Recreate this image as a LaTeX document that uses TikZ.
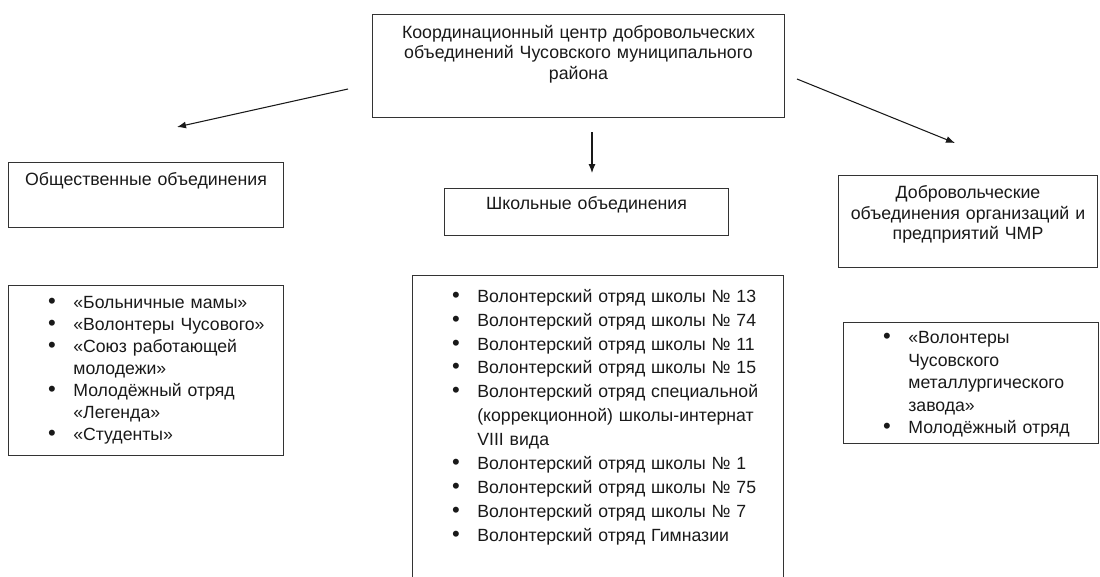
\documentclass[tikz,border=0pt]{standalone}
\usepackage{fontspec}
\setmainfont{Liberation Sans}
\usetikzlibrary{arrows.meta}

% bulleted list for the boxes
\newenvironment{dotlist}{%
  \begin{list}{\scalebox{1.25}{\textbullet}}{%
    \setlength\leftmargin{37pt}\setlength\labelsep{10pt}%
    \setlength\labelwidth{20pt}\setlength\itemsep{0pt}%
    \setlength\parsep{0pt}\setlength\topsep{0pt}%
    \setlength\partopsep{0pt}}}{\end{list}}

\begin{document}
\begin{tikzpicture}
    [x=0.02cm,y=-0.02cm,
     box/.style={draw=black!80,line width=0.6pt,anchor=north west,inner sep=0pt},
     caption/.style={anchor=north,inner sep=0pt,align=center,text=black!90,
                     font=\fontsize{10.1}{11.8}\selectfont},
     items/.style={anchor=north west,inner sep=0pt,text=black!90},
     arrow/.style={draw=black!90,line width=0.6pt,-{Latex[length=1.8mm,width=1.4mm]}}]
    \clip (0,0) rectangle (1100,576);

    % boxes
    \node[box,minimum width=8.24cm,minimum height=2.06cm] (hub)    at (372,14)  {};
    \node[box,minimum width=5.5cm, minimum height=1.3cm]  (pub)    at (8,162)   {};
    \node[box,minimum width=5.68cm,minimum height=0.94cm] (school) at (444,188) {};
    \node[box,minimum width=5.18cm,minimum height=1.84cm] (firms)  at (838,175) {};
    \node[box,minimum width=5.5cm, minimum height=3.4cm]  (publist)    at (8,285)   {};
    \node[box,minimum width=7.42cm,minimum height=6.5cm]  (schoollist) at (412,275) {};
    \node[box,minimum width=5.1cm, minimum height=2.42cm] (firmlist)   at (843,322) {};

    % captions
    \node[caption,text width=7.8cm] (hubtxt) at ([yshift=-0.21cm]hub.north)
      {Координационный центр добровольческих\\объединений Чусовского муниципального\\района};
    \node[caption,text width=5.4cm] (pubtxt) at ([yshift=-0.2cm]pub.north)
      {Общественные объединения};
    \node[caption,text width=5.6cm] (schooltxt) at ([yshift=-0.16cm]school.north)
      {Школьные объединения};
    \node[caption,text width=5.1cm] (firmstxt) at ([yshift=-0.2cm]firms.north)
      {Добровольческие\\объединения организаций и\\предприятий ЧМР};

    % lists
    \node[items,text width=5.5cm,font=\fontsize{10.05}{12.5}\selectfont] (pubitems)
      at ([yshift=-0.02cm]publist.north west) {%
      \begin{dotlist}
        \item «Больничные мамы»
        \item «Волонтеры Чусового»
        \item «Союз работающей\\молодежи»
        \item Молодёжный отряд\\«Легенда»
        \item «Студенты»
      \end{dotlist}};
    \node[items,text width=7.42cm,font=\fontsize{10.05}{13.6}\selectfont] (schoolitems)
      at ([yshift=-0.06cm]schoollist.north west) {%
      \begin{dotlist}
        \item Волонтерский отряд школы № 13
        \item Волонтерский отряд школы № 74
        \item Волонтерский отряд школы № 11
        \item Волонтерский отряд школы № 15
        \item Волонтерский отряд специальной\\(коррекционной) школы-интернат\\VIII вида
        \item Волонтерский отряд школы № 1
        \item Волонтерский отряд школы № 75
        \item Волонтерский отряд школы № 7
        \item Волонтерский отряд Гимназии
      \end{dotlist}};
    \node[items,text width=5.1cm,font=\fontsize{10.05}{12.8}\selectfont] (firmitems)
      at ([yshift=0.02cm]firmlist.north west) {%
      \begin{dotlist}
        \item «Волонтеры\\Чусовского\\металлургического\\завода»
        \item Молодёжный отряд
      \end{dotlist}};

    % arrows
    \coordinate (hubL)  at (348,89);
    \coordinate (pubA)  at (177,127);
    \coordinate (hubB)  at (592,132);
    \coordinate (schA)  at (592,173);
    \coordinate (hubR)  at (797,79);
    \coordinate (firmA) at (955,143);
    \foreach \from/\to in {hubL/pubA,hubB/schA,hubR/firmA}
      \draw[arrow] (\from) -- (\to);
\end{tikzpicture}
\end{document}
